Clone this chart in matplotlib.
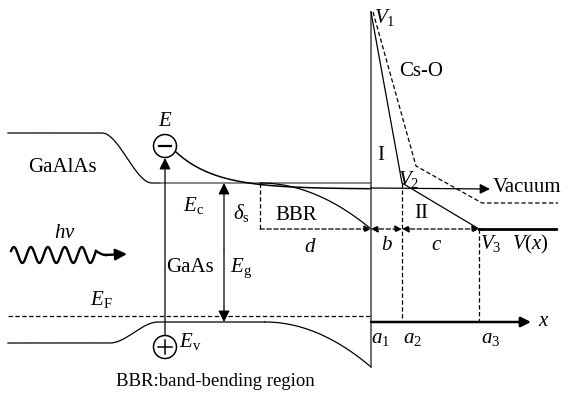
import numpy as np
import matplotlib
matplotlib.use("Agg")
import matplotlib.pyplot as plt
from matplotlib.patches import Circle

plt.rcParams['font.family'] = ['Liberation Serif', 'DejaVu Serif']
plt.rcParams['mathtext.fontset'] = 'custom'
plt.rcParams['mathtext.rm'] = 'Liberation Serif'
plt.rcParams['mathtext.it'] = 'Liberation Serif:italic'
plt.rcParams['mathtext.bf'] = 'Liberation Serif:bold'

# ---- diagram levels (pixel coordinates of the schematic) ----
gaalas_cb = [8, 105, 133]          # x0, x_step, level
ec_level = 183
ev_level = 322
gaalas_vb = 343
ef_level = 316
surface_x = 371
a_positions = [371, 402, 479]      # a1, a2, a3
v_levels = [12, 183, 229]          # V1, V2, V3
cso_points_x = [373, 416, 482, 558]
cso_points_y = [12, 166, 203, 203]
bbr_start = 260
xaxis_level = 322

fig = plt.figure(figsize=(5.70, 3.93), dpi=100)
ax = fig.add_axes([0, 0, 1, 1])
ax.set_xlim(0, 570)
ax.set_ylim(393, 0)
ax.axis('off')

K = 'black'
LW = 0.9
DASH = (0, (3.5, 2))

def smooth(x, x0, x1, y0, y1):
    t = np.clip((x - x0) / (x1 - x0), 0, 1)
    s = t * t * (3 - 2 * t)
    return y0 + (y1 - y0) * s

# GaAlAs / GaAs conduction band
x = np.linspace(8, 160, 200)
ax.plot(x, smooth(x, 102, 152, 133, ec_level), color=K, lw=LW)
ax.plot([152, surface_x], [ec_level, ec_level], color='#666666', lw=1.1)

# BBR conduction band bending
x = np.linspace(bbr_start, surface_x, 100)
ax.plot(x, ec_level + (v_levels[2] - ec_level) * ((x - bbr_start) / (surface_x - bbr_start)) ** 2,
        color=K, lw=LW)

# valence band
x = np.linspace(8, 265, 200)
ax.plot(x, smooth(x, 110, 158, gaalas_vb, ev_level), color=K, lw=LW)
x = np.linspace(265, surface_x, 100)
ax.plot(x, ev_level + 45 * ((x - 265) / (surface_x - 265)) ** 2, color=K, lw=LW)

# Fermi level
ax.plot([8, surface_x], [ef_level, ef_level], color=K, lw=LW, ls=DASH)

# electron trajectory
x = np.linspace(176, surface_x, 200)
ax.plot(x, 189 - 37 * np.exp(-(x - 176) / 40), color=K, lw=1.1)
ax.annotate('', xy=(490, 189), xytext=(surface_x, 188),
            arrowprops=dict(arrowstyle='-|>', color=K, lw=LW, mutation_scale=15,
                            shrinkA=0, shrinkB=0))

# electron and hole circles
ax.add_patch(Circle((165, 146), 11.5, fill=False, color=K, lw=1.1))
ax.plot([159, 171], [146, 146], color=K, lw=1.6)
ax.add_patch(Circle((165, 347), 11.5, fill=False, color=K, lw=1.1))
ax.plot([158, 172], [347, 347], color=K, lw=1.1)
ax.plot([165, 165], [340, 354], color=K, lw=1.1)

# excitation arrow
ax.annotate('', xy=(165, 158), xytext=(165, 335.5),
            arrowprops=dict(arrowstyle='-|>', color=K, lw=LW, mutation_scale=17,
                            shrinkA=0, shrinkB=0))

# Eg double arrow
ax.annotate('', xy=(224, ec_level), xytext=(224, 250),
            arrowprops=dict(arrowstyle='-|>', color=K, lw=LW, mutation_scale=17,
                            shrinkA=0, shrinkB=0))
ax.annotate('', xy=(224, ev_level), xytext=(224, 250),
            arrowprops=dict(arrowstyle='-|>', color=K, lw=LW, mutation_scale=17,
                            shrinkA=0, shrinkB=0))

# BBR box
ax.plot([bbr_start, bbr_start], [ec_level, v_levels[2]], color=K, lw=LW, ls=DASH)
ax.annotate('', xy=(surface_x, v_levels[2]), xytext=(bbr_start, v_levels[2]),
            arrowprops=dict(arrowstyle='-|>', color=K, lw=LW, ls=DASH,
                            mutation_scale=10, shrinkA=0, shrinkB=0))

# surface line
ax.plot([surface_x, surface_x], [v_levels[0], 367], color='#444444', lw=1.1)

# potential V(x)
ax.plot([a_positions[0], a_positions[1], a_positions[2]], v_levels, color=K, lw=LW)
ax.plot([a_positions[2], 556], [v_levels[2], v_levels[2]], color=K, lw=2.0)

# Cs-O dashed profile
ax.plot(cso_points_x, cso_points_y, color=K, lw=LW, ls=DASH)

# dashed verticals
ax.plot([a_positions[1], a_positions[1]], [v_levels[1], xaxis_level], color=K, lw=LW, ls=DASH)
ax.plot([a_positions[2], a_positions[2]], [v_levels[2], xaxis_level], color=K, lw=LW, ls=DASH)

# b and c double arrows
for x0, x1 in [(a_positions[0], a_positions[1]), (a_positions[1], a_positions[2])]:
    ax.annotate('', xy=(x1, v_levels[2]), xytext=(x0, v_levels[2]),
                arrowprops=dict(arrowstyle='<|-|>', color=K, lw=LW, ls=DASH,
                                mutation_scale=10, shrinkA=0, shrinkB=0))

# x axis
ax.annotate('', xy=(531, xaxis_level), xytext=(surface_x, xaxis_level),
            arrowprops=dict(arrowstyle='-|>', color=K, lw=1.8, mutation_scale=15,
                            shrinkA=0, shrinkB=0))

# photon wave
xw = np.linspace(11, 96, 300)
yw = 255 - 8 * np.sin((xw - 11) / 17 * 2 * np.pi + np.pi / 6)
ax.plot(xw, yw, color=K, lw=1.7)
xh = np.linspace(96, 106, 30)
ax.plot(xh, yw[-1] - (yw[-1] - 255) * np.sin((xh - 96) / 10 * np.pi / 2), color=K, lw=1.7)
ax.annotate('', xy=(127, 254), xytext=(105, 255),
            arrowprops=dict(arrowstyle='-|>', color=K, lw=1.7, mutation_scale=17,
                            shrinkA=0, shrinkB=0))

FS = 15
def T(x, y, s, fs=FS, **kw):
    ax.text(x, y, s, fontsize=fs, ha='center', va='center', **kw)

T(165, 122, r'$E$')
T(62, 168, 'GaAlAs')
T(193, 205, r'$E_{\mathrm{c}}$')
T(241, 213, r'$\delta_{\mathrm{s}}$')
T(190, 268, 'GaAs')
T(241, 268, r'$E_{\mathrm{g}}$')
T(65, 233, r'$h\nu$')
T(101, 300, r'$E_{\mathrm{F}}$')
T(190, 342, r'$E_{\mathrm{v}}$')
T(296, 215, 'BBR')
T(310, 248, r'$d$')
T(387, 245, r'$b$')
T(437, 245, r'$c$')
T(385, 18, r'$V_1$')
T(409, 179, r'$V_2$')
T(491, 244, r'$V_3$')
T(530, 244, r'$V(x)$')
T(421, 72, 'Cs-O')
T(381, 156, 'I')
T(421, 214, 'II')
T(527, 187, 'Vacuum')
T(544, 321, r'$x$')
T(380, 338, r'$a_1$')
T(412, 338, r'$a_2$')
T(491, 338, r'$a_3$')
T(215, 382, 'BBR:band-bending region', fs=13.5)

fig.savefig('out.png', dpi=100)
